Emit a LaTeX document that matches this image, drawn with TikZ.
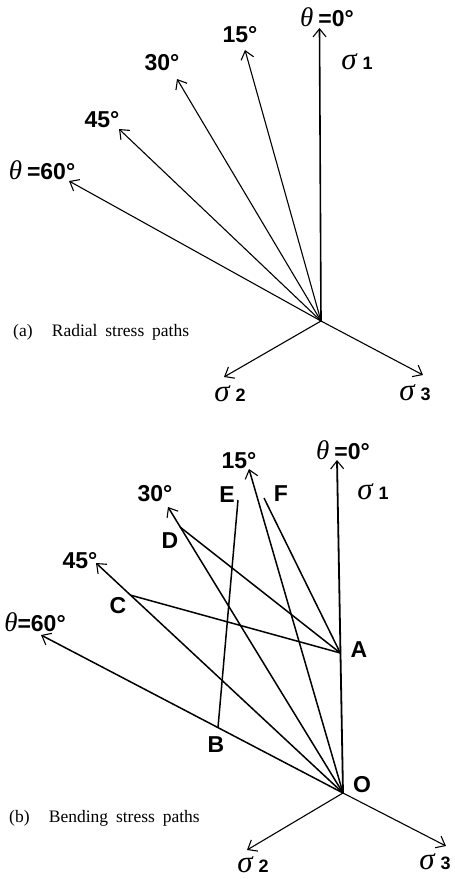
\documentclass[tikz,border=0pt]{standalone}
\usepackage{fontspec}
\setmainfont{Liberation Sans}
\newfontfamily\serifit[ItalicFont={Liberation Serif Italic}]{Liberation Serif}
\newfontfamily\capfont{Liberation Serif}
\usetikzlibrary{arrows.meta}
\newcommand{\gth}{{\serifit\mdseries\itshape\fontsize{27}{27}\selectfont θ}}
\newcommand{\gsig}[1]{{\serifit\mdseries\itshape\fontsize{31}{31}\selectfont σ}\hspace{6pt}{\fontsize{18}{18}\selectfont #1}}
\begin{document}
\begin{tikzpicture}[x=1pt,y=-1pt,
  lbl/.style={inner sep=0pt,font=\bfseries\fontsize{23}{23}\selectfont},
  siglbl/.style={inner sep=0pt,anchor=base,font=\bfseries\fontsize{23}{23}\selectfont},
  captext/.style={inner sep=0pt,anchor=west,font=\capfont\fontsize{17.5}{17.5}\selectfont},
  thin path/.style={line width=1.1pt},
  thick path/.style={line width=1.5pt},
  arr/.style={-{Straight Barb[length=8pt,width=13pt,line width=1.1pt]}}]
\useasboundingbox (0,0) rectangle (455,879);
% ---------- (a) ----------
\coordinate (Oa) at (321,321);
\coordinate (a0) at (319.5,28);
\coordinate (a15) at (245,50);
\coordinate (a30) at (177,79);
\coordinate (a45) at (119,129);
\coordinate (a60) at (69,181);
\coordinate (a2) at (224,377);
\coordinate (a3) at (423,375);
\draw[arr,line width=1.6pt] (Oa) -- (a0);
\foreach \t in {a15,a30,a45,a60,a2,a3}
  \draw[arr,thin path] (Oa) -- (\t);
\node[lbl] (la0) at (327,17) {\gth\hspace{5pt}=0°};
\node[lbl] (la15) at (240,35) {15°};
\node[lbl] (la30) at (162,63) {30°};
\node[lbl] (la45) at (102,120) {45°};
\node[lbl] (la60) at (42,170) {\gth\hspace{5pt}=60°};
\node[siglbl] (las1) at (357,69) {\gsig{1}};
\node[siglbl] (las2) at (230,401) {\gsig{2}};
\node[siglbl] (las3) at (415,400) {\gsig{3}};
\node[captext] (capa) at (13,332) {(a)\hspace{1.1em}Radial\hspace{0.45em}stress\hspace{0.45em}paths};
% ---------- (b) ----------
\coordinate (O) at (343,793);
\coordinate (b0) at (337,460);
\coordinate (b15) at (249,469);
\coordinate (b30) at (168,507);
\coordinate (b45) at (96,563);
\coordinate (b60) at (41,635);
\coordinate (b2) at (247,850);
\coordinate (b3) at (446,846);
\coordinate (A) at (340.3,653);
\coordinate (B) at (218,727.5);
\coordinate (C) at (130,595);
\coordinate (D) at (180,527);
\coordinate (E) at (238,500);
\coordinate (F) at (264,498);
\draw[arr,line width=1.8pt] (O) -- (b0);
\foreach \t in {b15,b30,b45,b60}
  \draw[arr,thick path] (O) -- (\t);
\foreach \t in {b2,b3}
  \draw[arr,thin path] (O) -- (\t);
\draw[thick path] (A) -- (C);
\draw[thick path] (A) -- (D);
\draw[thick path] (A) -- (F);
\draw[thick path] (B) -- (E);
\node[lbl] (lb0) at (343,450) {\gth\hspace{5pt}=0°};
\node[lbl] (lb15) at (239,461) {15°};
\node[lbl] (lb30) at (155,494) {30°};
\node[lbl] (lbE) at (227,495) {E};
\node[lbl] (lbF) at (281,494) {F};
\node[lbl] (lbD) at (170,541) {D};
\node[lbl] (lb45) at (80,561) {45°};
\node[lbl] (lbC) at (118,606) {C};
\node[lbl] (lb60) at (35,622) {\gth=60°};
\node[lbl] (lbA) at (359,650) {A};
\node[lbl] (lbB) at (216,745) {B};
\node[lbl] (lbO) at (362,785) {O};
\node[siglbl] (lbs1) at (373,499) {\gsig{1}};
\node[siglbl] (lbs2) at (253,872) {\gsig{2}};
\node[siglbl] (lbs3) at (435,869) {\gsig{3}};
\node[captext] (capb) at (9,818) {(b)\hspace{1.1em}Bending\hspace{0.45em}stress\hspace{0.45em}paths};
\end{tikzpicture}
\end{document}
